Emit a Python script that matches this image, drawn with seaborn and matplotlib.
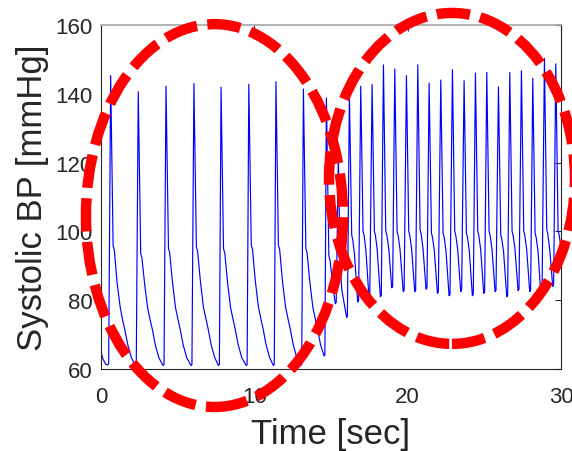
import matplotlib
matplotlib.use("Agg")
import matplotlib.pyplot as plt
from matplotlib.patches import Ellipse
import seaborn as sns
import pandas as pd

# ---------------- data ----------------
time_s = [
    0.00, 0.12, 0.30, 0.45, 0.50,
    # beat 1
    0.63, 0.79, 0.87, 1.04, 1.25, 1.42, 1.55, 1.75, 1.98, 2.24, 2.30,
    # beat 2
    2.43, 2.59, 2.67, 2.85, 3.05, 3.23, 3.35, 3.55, 3.78, 4.05, 4.11,
    # beat 3
    4.24, 4.40, 4.48, 4.66, 4.86, 5.04, 5.16, 5.36, 5.59, 5.87, 5.93,
    # beat 4
    6.06, 6.22, 6.30, 6.48, 6.68, 6.86, 6.98, 7.18, 7.41, 7.66, 7.72,
    # beat 5
    7.83, 7.99, 8.07, 8.25, 8.45, 8.63, 8.75, 8.95, 9.18, 9.47, 9.53,
    # beat 6
    9.64, 9.80, 9.88, 10.06, 10.26, 10.44, 10.56, 10.76, 10.99, 11.24, 11.30,
    # beat 7
    11.41, 11.57, 11.65, 11.83, 12.03, 12.21, 12.33, 12.53, 12.76, 13.03, 13.09,
    # beat 8
    13.20, 13.36, 13.44, 13.62, 13.82, 14.00, 14.12, 14.32, 14.55, 14.60,
    # beat 9
    14.70, 14.86, 14.94, 15.12, 15.28, 15.34,
    # transition beat
    15.48, 15.60, 15.70, 15.82, 16.02, 16.07,
    # fast beats
    16.20, 16.35, 16.42, 16.53, 16.74, 16.80,
    16.94, 17.09, 17.16, 17.27, 17.47, 17.53,
    17.68, 17.83, 17.90, 18.01, 18.22, 18.28,
    18.42, 18.57, 18.64, 18.77, 18.96, 19.02,
    19.16, 19.31, 19.38, 19.50, 19.71, 19.77,
    19.92, 20.07, 20.14, 20.26, 20.46, 20.52,
    20.66, 20.81, 20.88, 21.00, 21.20, 21.26,
    21.40, 21.55, 21.62, 21.74, 21.94, 22.00,
    22.16, 22.31, 22.38, 22.50, 22.70, 22.76,
    22.92, 23.07, 23.14, 23.26, 23.46, 23.52,
    23.68, 23.83, 23.90, 24.02, 24.22, 24.28,
    24.42, 24.57, 24.64, 24.76, 24.96, 25.02,
    25.16, 25.31, 25.38, 25.50, 25.70, 25.76,
    25.92, 26.07, 26.14, 26.26, 26.46, 26.52,
    26.66, 26.81, 26.88, 27.00, 27.20, 27.26,
    27.42, 27.57, 27.64, 27.76, 27.96, 28.02,
    28.16, 28.31, 28.38, 28.50, 28.70, 28.76,
    28.92, 29.07, 29.14, 29.26, 29.46, 29.52,
    29.66, 29.81, 29.88, 30.00,
]

bp_mmhg = [
    65.0, 63.0, 61.4, 61.2, 61.6,
    145.3, 95.8, 94.5, 85.5, 78.0, 74.0, 71.5, 67.0, 63.3, 61.0, 61.4,
    140.6, 93.5, 92.3, 84.5, 77.5, 73.8, 71.5, 66.8, 63.2, 61.0, 61.3,
    142.2, 95.0, 93.8, 85.3, 77.8, 74.0, 71.6, 67.0, 63.3, 61.0, 61.3,
    143.0, 95.5, 94.3, 85.6, 78.0, 74.2, 71.8, 67.1, 63.4, 61.0, 61.3,
    141.9, 95.0, 93.8, 85.3, 77.8, 74.0, 71.6, 67.0, 63.3, 61.0, 61.3,
    142.8, 96.0, 94.8, 85.8, 78.2, 74.3, 71.9, 67.2, 63.4, 61.0, 61.3,
    143.5, 96.0, 94.8, 85.8, 78.2, 74.3, 71.9, 67.2, 63.4, 61.0, 61.3,
    141.4, 95.0, 93.8, 85.3, 77.8, 74.0, 71.6, 67.0, 63.8, 64.0,
    138.8, 93.0, 91.5, 84.0, 79.0, 79.3,
    122.0, 90.0, 83.3, 80.0, 75.0, 75.4,
    140.0, 99.0, 97.5, 93.5, 79.5, 79.9,
    142.2, 100.0, 98.8, 94.8, 81.3, 81.7,
    142.7, 100.0, 98.8, 94.8, 81.0, 81.4,
    148.4, 100.2, 99.0, 94.9, 83.6, 84.0,
    147.2, 100.0, 98.8, 94.8, 82.5, 82.9,
    145.3, 100.0, 98.8, 94.8, 82.5, 82.9,
    148.4, 100.5, 99.2, 95.0, 83.2, 83.6,
    143.1, 99.5, 98.3, 94.3, 82.0, 82.4,
    144.0, 99.5, 98.3, 94.3, 81.3, 81.7,
    147.0, 100.0, 98.8, 94.8, 82.5, 82.9,
    143.8, 99.5, 98.3, 94.3, 81.3, 81.7,
    146.0, 100.0, 98.8, 94.8, 82.0, 82.4,
    146.2, 100.0, 98.8, 94.8, 82.5, 82.9,
    142.0, 99.0, 97.8, 93.8, 81.0, 81.4,
    146.2, 100.0, 98.8, 94.8, 82.8, 83.2,
    146.7, 100.0, 98.8, 94.8, 82.5, 82.9,
    144.5, 99.5, 98.3, 94.3, 80.5, 80.9,
    150.3, 100.5, 99.2, 95.0, 84.0, 84.4,
    148.7, 100.2, 99.0, 95.0,
]

x_ticks = [0, 10, 20, 30]
y_ticks = [60, 80, 100, 120, 140, 160]
x_label = "Time [sec]"
y_label = "Systolic BP [mmHg]"

# ---------------- styling ----------------
sns.set_theme(style="white")
plt.rcParams["font.family"] = ["Liberation Sans", "DejaVu Sans"]
TXT = "#262626"

fig = plt.figure(figsize=(5.72, 4.52), dpi=100)
ax = fig.add_axes([101 / 572, 1 - 370 / 452, 460 / 572, 344 / 452])

df = pd.DataFrame({"t": time_s, "bp": bp_mmhg})
sns.lineplot(data=df, x="t", y="bp", ax=ax, color="#0000FF",
             linewidth=0.85, estimator=None, sort=False)

ax.set_xlim(0, 30)
ax.set_ylim(60, 160)
ax.set_xticks(x_ticks)
ax.set_yticks(y_ticks)
ax.set_xticklabels([str(v) for v in x_ticks])
ax.set_yticklabels([str(v) for v in y_ticks])

ax.tick_params(axis="both", direction="in", length=4, width=0.8,
               colors=TXT, labelsize=16, top=True, right=True)
ax.tick_params(axis="x", pad=12.5)
ax.tick_params(axis="y", pad=6)

for side in ["left", "bottom", "right"]:
    ax.spines[side].set_color(TXT)
    ax.spines[side].set_linewidth(0.8)
ax.spines["top"].set_color("#a6a6a6")
ax.spines["top"].set_linewidth(1.2)

ax.set_xlabel(x_label, fontsize=25, color=TXT)
ax.set_ylabel(y_label, fontsize=25, color=TXT)
ax.xaxis.set_label_coords(0.5, -0.14)
ax.yaxis.set_label_coords(-0.113, 0.5)

# red dashed ellipses highlighting the two regimes
for cx, cy, w, h in [(7.40, 104.6, 16.76, 111.3), (22.89, 115.4, 16.04, 96.2)]:
    e = Ellipse((cx, cy), w, h, fill=False, edgecolor="#FF0000",
                linewidth=7.5, linestyle=(0, (3.2, 1.0)),
                clip_on=False, zorder=10)
    ax.add_patch(e)

fig.savefig("out.png", dpi=100)
